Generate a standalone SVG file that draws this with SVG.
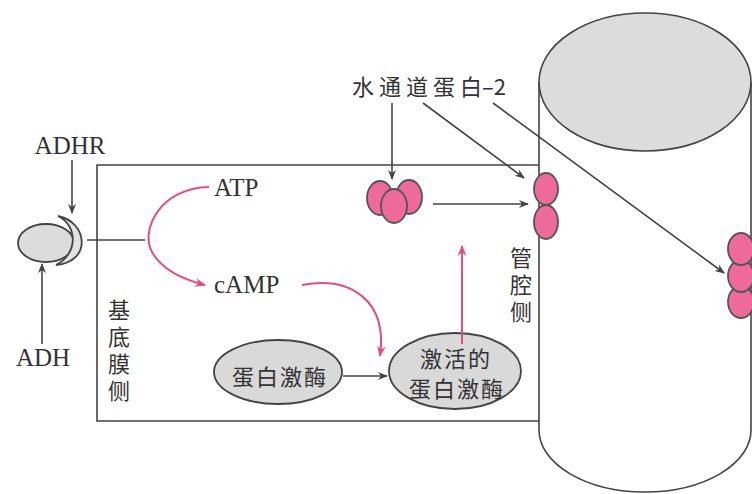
<svg xmlns="http://www.w3.org/2000/svg" width="752" height="494" viewBox="0 0 752 494">
  <defs>
    <marker id="arr" viewBox="0 0 10 10" refX="9" refY="5" markerWidth="10" markerHeight="10" markerUnits="userSpaceOnUse" orient="auto">
      <path d="M0,1 L10,5 L0,9 L3,5 Z" fill="#444"/>
    </marker>
    <marker id="arrPink" viewBox="0 0 10 10" refX="9" refY="5" markerWidth="11" markerHeight="11" markerUnits="userSpaceOnUse" orient="auto">
      <path d="M0,1 L10,5 L0,9 L3,5 Z" fill="#e24d86"/>
    </marker>
    <style>
      .line { fill: none; stroke: #444; stroke-width: 1.6; }
      .pink { fill: none; stroke: #e24d86; stroke-width: 2; }
      .aqp { fill: #ee6a9b; stroke: #555; stroke-width: 1.8; }
      .enz { fill: #d9d9d9; stroke: #444; stroke-width: 1.8; }
      .lat { font-family: "Liberation Serif", serif; font-size: 25px; fill: #333; }
      .cjk { font-family: "Noto Sans CJK SC", "Liberation Serif", serif; font-size: 22px; fill: #333; }
      .vert { writing-mode: vertical-rl; letter-spacing: 5px; }
    </style>
  </defs>

  <rect width="752" height="494" fill="#ffffff"/>

  <!-- collecting duct lumen (cylinder) -->
  <g id="tubule">
    <path class="line" d="M539,82 L539,430 A106,62 0 0 0 751,430 L751,82" fill="#fff"/>
    <ellipse cx="645" cy="82" rx="106" ry="69" fill="#dcdcdc" stroke="#444" stroke-width="1.6"/>
  </g>

  <!-- principal cell outline -->
  <g id="cell">
    <path class="line" d="M539,165 L97,165 L97,421 L539,421"/>
  </g>

  <!-- receptor with bound ADH -->
  <g id="receptor">
    <ellipse cx="46" cy="243" rx="28" ry="19" fill="#dcdcdc" stroke="#444" stroke-width="1.8"/>
    <path d="M58,216 C88,222 92,262 56,265 C78,254 78,226 58,216 Z" fill="#e2e2e2" stroke="#444" stroke-width="1.8"/>
  </g>

  <g id="label-adhr"><text class="lat" x="70" y="154" text-anchor="middle">ADHR</text></g>
  <g id="label-adh"><text class="lat" x="43" y="366" text-anchor="middle">ADH</text></g>
  <g id="label-atp"><text class="lat" x="214" y="196">ATP</text></g>
  <g id="label-camp"><text class="lat" x="214" y="293">cAMP</text></g>

  <g id="label-aqp2"><text class="cjk" x="352" y="95"><tspan letter-spacing="5">水通道蛋</tspan><tspan>白–2</tspan></text></g>

  <g id="label-basal">
    <text class="cjk vert" x="119" y="299">基底膜侧</text>
  </g>
  <g id="label-luminal">
    <text class="cjk vert" x="521" y="247">管腔侧</text>
  </g>

  <!-- protein kinase -->
  <g id="pka">
    <ellipse class="enz" cx="278" cy="372" rx="64" ry="32"/>
    <text class="cjk" x="280" y="385" text-anchor="middle" font-size="24" letter-spacing="2">蛋白激酶</text>
  </g>
  <g id="pka-active">
    <ellipse class="enz" cx="455" cy="371" rx="66" ry="38"/>
    <text class="cjk" x="456" y="367" text-anchor="middle" font-size="24" letter-spacing="2">激活的</text>
    <text class="cjk" x="457" y="397" text-anchor="middle" font-size="24" letter-spacing="2">蛋白激酶</text>
  </g>

  <!-- aquaporin-2 in cytoplasmic vesicles -->
  <g id="aqp-vesicle">
    <ellipse class="aqp" cx="380" cy="198" rx="13" ry="17"/>
    <ellipse class="aqp" cx="409" cy="197" rx="13" ry="17"/>
    <ellipse class="aqp" cx="394" cy="206" rx="13" ry="17"/>
  </g>

  <!-- aquaporin-2 in apical membrane -->
  <g id="aqp-apical">
    <ellipse class="aqp" cx="546" cy="189" rx="12" ry="16"/>
    <ellipse class="aqp" cx="546" cy="222" rx="12" ry="17"/>
  </g>
  <g id="aqp-lumen">
    <ellipse class="aqp" cx="741" cy="302" rx="13" ry="16"/>
    <ellipse class="aqp" cx="741" cy="276" rx="13" ry="16"/>
    <ellipse class="aqp" cx="741" cy="249" rx="13" ry="16"/>
  </g>

  <!-- connectors -->
  <g id="connectors">
    <line class="line" x1="72" y1="160" x2="72" y2="213" marker-end="url(#arr)"/>
    <line class="line" x1="42" y1="344" x2="42" y2="264" marker-end="url(#arr)"/>
    <line class="line" x1="87" y1="240" x2="145" y2="240"/>
    <line class="line" x1="392" y1="103" x2="392" y2="179" marker-end="url(#arr)"/>
    <line class="line" x1="423" y1="103" x2="524" y2="178" marker-end="url(#arr)"/>
    <line class="line" x1="493" y1="103" x2="724" y2="273" marker-end="url(#arr)"/>
    <line class="line" x1="433" y1="204" x2="528" y2="204" marker-end="url(#arr)"/>
    <line class="line" x1="343" y1="376" x2="387" y2="376" marker-end="url(#arr)"/>
    <path class="pink" d="M209,187 C160,188 140,230 152,252 C162,270 185,280 205,285" marker-end="url(#arrPink)"/>
    <path class="pink" d="M302,285 C350,276 388,300 380,356" marker-end="url(#arrPink)"/>
    <line class="pink" x1="462" y1="344" x2="462" y2="246" marker-end="url(#arrPink)"/>
  </g>
</svg>
